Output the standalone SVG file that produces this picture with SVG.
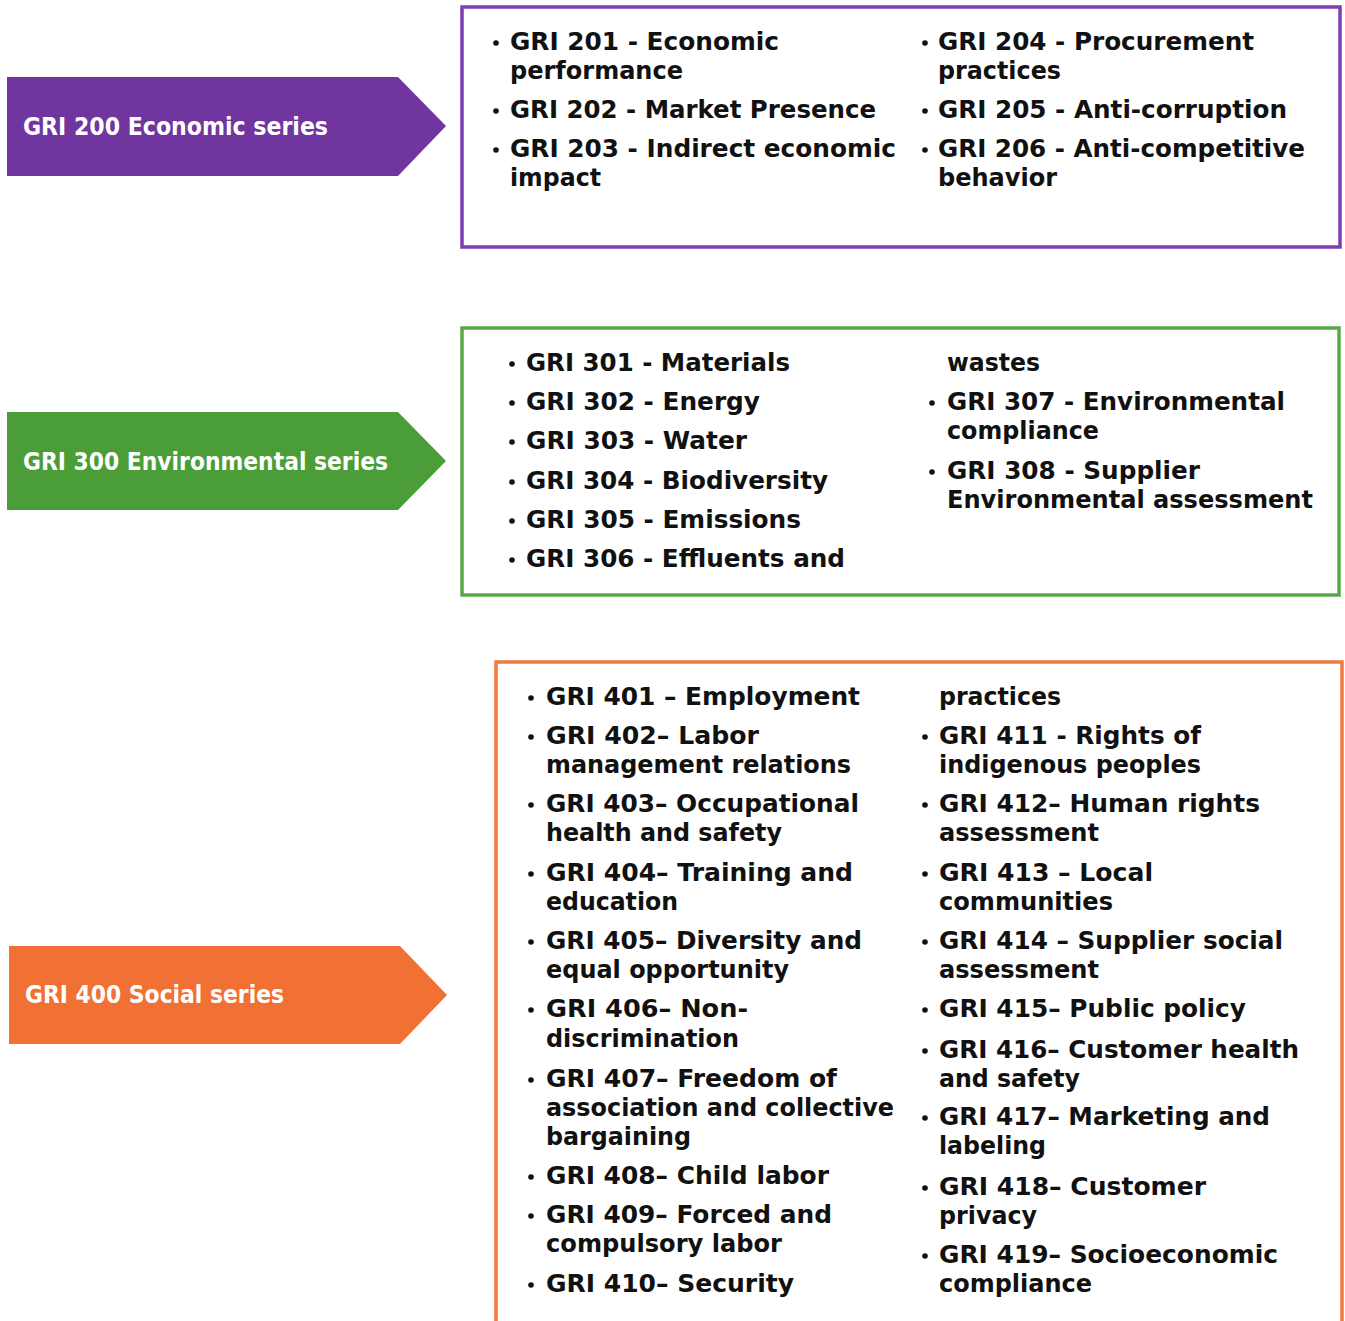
<svg xmlns="http://www.w3.org/2000/svg" width="1345" height="1321" viewBox="0 0 1345 1321">
<style>
.t{font-family:"DejaVu Sans","Liberation Sans",sans-serif;font-weight:bold;font-size:24px;fill:#111}
.lbl{font-family:"DejaVu Sans","Liberation Sans",sans-serif;font-weight:bold;font-size:24px;fill:#fff}
.b{fill:#111}
.box{fill:#fff;stroke-width:3.5}
</style>
<rect width="1345" height="1321" fill="#fff"/>
<g id="connectors"/>
<g id="econ-arrow">
<polygon points="7,77 398,77 446,126 398,176 7,176" fill="#7135a0"/>
<text class="lbl" x="23" y="135" textLength="305" lengthAdjust="spacingAndGlyphs">GRI 200 Economic series</text>
</g>
<g id="econ-box">
<rect class="box" x="462" y="7" width="878" height="240" stroke="#7b3fb0"/>
<circle class="b" cx="496" cy="43" r="2.8"/>
<text class="t" x="510" y="50" textLength="269" lengthAdjust="spacingAndGlyphs">GRI 201 - Economic</text>
<text class="t" x="510" y="79" textLength="173" lengthAdjust="spacingAndGlyphs">performance</text>
<circle class="b" cx="496" cy="111" r="2.8"/>
<text class="t" x="510" y="118" textLength="366" lengthAdjust="spacingAndGlyphs">GRI 202 - Market Presence</text>
<circle class="b" cx="496" cy="150" r="2.8"/>
<text class="t" x="510" y="157" textLength="386" lengthAdjust="spacingAndGlyphs">GRI 203 - Indirect economic</text>
<text class="t" x="510" y="186" textLength="91" lengthAdjust="spacingAndGlyphs">impact</text>
<circle class="b" cx="925" cy="43" r="2.8"/>
<text class="t" x="938" y="50" textLength="316" lengthAdjust="spacingAndGlyphs">GRI 204 - Procurement</text>
<text class="t" x="938" y="79" textLength="123" lengthAdjust="spacingAndGlyphs">practices</text>
<circle class="b" cx="925" cy="111" r="2.8"/>
<text class="t" x="938" y="118" textLength="349" lengthAdjust="spacingAndGlyphs">GRI 205 - Anti-corruption</text>
<circle class="b" cx="925" cy="150" r="2.8"/>
<text class="t" x="938" y="157" textLength="367" lengthAdjust="spacingAndGlyphs">GRI 206 - Anti-competitive</text>
<text class="t" x="938" y="186" textLength="119" lengthAdjust="spacingAndGlyphs">behavior</text>
</g>
<g id="env-arrow">
<polygon points="7,412 398,412 446,461 398,510 7,510" fill="#4a9d37"/>
<text class="lbl" x="23" y="470" textLength="365" lengthAdjust="spacingAndGlyphs">GRI 300 Environmental series</text>
</g>
<g id="env-box">
<rect class="box" x="462" y="328" width="877" height="267" stroke="#58a946"/>
<circle class="b" cx="512" cy="364" r="2.8"/>
<text class="t" x="526" y="371" textLength="264" lengthAdjust="spacingAndGlyphs">GRI 301 - Materials</text>
<circle class="b" cx="512" cy="403" r="2.8"/>
<text class="t" x="526" y="410" textLength="234" lengthAdjust="spacingAndGlyphs">GRI 302 - Energy</text>
<circle class="b" cx="512" cy="442" r="2.8"/>
<text class="t" x="526" y="449" textLength="221" lengthAdjust="spacingAndGlyphs">GRI 303 - Water</text>
<circle class="b" cx="512" cy="482" r="2.8"/>
<text class="t" x="526" y="489" textLength="302" lengthAdjust="spacingAndGlyphs">GRI 304 - Biodiversity</text>
<circle class="b" cx="512" cy="521" r="2.8"/>
<text class="t" x="526" y="528" textLength="275" lengthAdjust="spacingAndGlyphs">GRI 305 - Emissions</text>
<circle class="b" cx="512" cy="560" r="2.8"/>
<text class="t" x="526" y="567" textLength="319" lengthAdjust="spacingAndGlyphs">GRI 306 - Effluents and</text>
<text class="t" x="947" y="371" textLength="93" lengthAdjust="spacingAndGlyphs">wastes</text>
<circle class="b" cx="932" cy="403" r="2.8"/>
<text class="t" x="947" y="410" textLength="338" lengthAdjust="spacingAndGlyphs">GRI 307 - Environmental</text>
<text class="t" x="947" y="439" textLength="152" lengthAdjust="spacingAndGlyphs">compliance</text>
<circle class="b" cx="932" cy="472" r="2.8"/>
<text class="t" x="947" y="479" textLength="253" lengthAdjust="spacingAndGlyphs">GRI 308 - Supplier</text>
<text class="t" x="947" y="508" textLength="366" lengthAdjust="spacingAndGlyphs">Environmental assessment</text>
</g>
<g id="social-arrow">
<polygon points="9,946 400,946 447,995 400,1044 9,1044" fill="#f07133"/>
<text class="lbl" x="25" y="1003" textLength="259" lengthAdjust="spacingAndGlyphs">GRI 400 Social series</text>
</g>
<g id="social-box">
<rect class="box" x="496" y="662" width="846" height="680" stroke="#f07a3c"/>
<circle class="b" cx="531" cy="698" r="2.8"/>
<text class="t" x="546" y="705" textLength="314" lengthAdjust="spacingAndGlyphs">GRI 401 – Employment</text>
<circle class="b" cx="531" cy="737" r="2.8"/>
<text class="t" x="546" y="744" textLength="213" lengthAdjust="spacingAndGlyphs">GRI 402– Labor</text>
<text class="t" x="546" y="773" textLength="305" lengthAdjust="spacingAndGlyphs">management relations</text>
<circle class="b" cx="531" cy="805" r="2.8"/>
<text class="t" x="546" y="812" textLength="313" lengthAdjust="spacingAndGlyphs">GRI 403– Occupational</text>
<text class="t" x="546" y="841" textLength="236" lengthAdjust="spacingAndGlyphs">health and safety</text>
<circle class="b" cx="531" cy="874" r="2.8"/>
<text class="t" x="546" y="881" textLength="307" lengthAdjust="spacingAndGlyphs">GRI 404– Training and</text>
<text class="t" x="546" y="910" textLength="132" lengthAdjust="spacingAndGlyphs">education</text>
<circle class="b" cx="531" cy="942" r="2.8"/>
<text class="t" x="546" y="949" textLength="316" lengthAdjust="spacingAndGlyphs">GRI 405– Diversity and</text>
<text class="t" x="546" y="978" textLength="243" lengthAdjust="spacingAndGlyphs">equal opportunity</text>
<circle class="b" cx="531" cy="1010" r="2.8"/>
<text class="t" x="546" y="1017" textLength="202" lengthAdjust="spacingAndGlyphs">GRI 406– Non-</text>
<text class="t" x="546" y="1047" textLength="193" lengthAdjust="spacingAndGlyphs">discrimination</text>
<circle class="b" cx="531" cy="1080" r="2.8"/>
<text class="t" x="546" y="1087" textLength="291" lengthAdjust="spacingAndGlyphs">GRI 407– Freedom of</text>
<text class="t" x="546" y="1116" textLength="348" lengthAdjust="spacingAndGlyphs">association and collective</text>
<text class="t" x="546" y="1145" textLength="145" lengthAdjust="spacingAndGlyphs">bargaining</text>
<circle class="b" cx="531" cy="1177" r="2.8"/>
<text class="t" x="546" y="1184" textLength="283" lengthAdjust="spacingAndGlyphs">GRI 408– Child labor</text>
<circle class="b" cx="531" cy="1216" r="2.8"/>
<text class="t" x="546" y="1223" textLength="286" lengthAdjust="spacingAndGlyphs">GRI 409– Forced and</text>
<text class="t" x="546" y="1252" textLength="236" lengthAdjust="spacingAndGlyphs">compulsory labor</text>
<circle class="b" cx="531" cy="1285" r="2.8"/>
<text class="t" x="546" y="1292" textLength="248" lengthAdjust="spacingAndGlyphs">GRI 410– Security</text>
<text class="t" x="939" y="705" textLength="122" lengthAdjust="spacingAndGlyphs">practices</text>
<circle class="b" cx="925" cy="737" r="2.8"/>
<text class="t" x="939" y="744" textLength="262" lengthAdjust="spacingAndGlyphs">GRI 411 - Rights of</text>
<text class="t" x="939" y="773" textLength="262" lengthAdjust="spacingAndGlyphs">indigenous peoples</text>
<circle class="b" cx="925" cy="805" r="2.8"/>
<text class="t" x="939" y="812" textLength="321" lengthAdjust="spacingAndGlyphs">GRI 412– Human rights</text>
<text class="t" x="939" y="841" textLength="160" lengthAdjust="spacingAndGlyphs">assessment</text>
<circle class="b" cx="925" cy="874" r="2.8"/>
<text class="t" x="939" y="881" textLength="214" lengthAdjust="spacingAndGlyphs">GRI 413 – Local</text>
<text class="t" x="939" y="910" textLength="174" lengthAdjust="spacingAndGlyphs">communities</text>
<circle class="b" cx="925" cy="942" r="2.8"/>
<text class="t" x="939" y="949" textLength="344" lengthAdjust="spacingAndGlyphs">GRI 414 – Supplier social</text>
<text class="t" x="939" y="978" textLength="160" lengthAdjust="spacingAndGlyphs">assessment</text>
<circle class="b" cx="925" cy="1010" r="2.8"/>
<text class="t" x="939" y="1017" textLength="307" lengthAdjust="spacingAndGlyphs">GRI 415– Public policy</text>
<circle class="b" cx="925" cy="1051" r="2.8"/>
<text class="t" x="939" y="1058" textLength="360" lengthAdjust="spacingAndGlyphs">GRI 416– Customer health</text>
<text class="t" x="939" y="1087" textLength="141" lengthAdjust="spacingAndGlyphs">and safety</text>
<circle class="b" cx="925" cy="1118" r="2.8"/>
<text class="t" x="939" y="1125" textLength="331" lengthAdjust="spacingAndGlyphs">GRI 417– Marketing and</text>
<text class="t" x="939" y="1154" textLength="107" lengthAdjust="spacingAndGlyphs">labeling</text>
<circle class="b" cx="925" cy="1188" r="2.8"/>
<text class="t" x="939" y="1195" textLength="267" lengthAdjust="spacingAndGlyphs">GRI 418– Customer</text>
<text class="t" x="939" y="1224" textLength="98" lengthAdjust="spacingAndGlyphs">privacy</text>
<circle class="b" cx="925" cy="1256" r="2.8"/>
<text class="t" x="939" y="1263" textLength="339" lengthAdjust="spacingAndGlyphs">GRI 419– Socioeconomic</text>
<text class="t" x="939" y="1292" textLength="153" lengthAdjust="spacingAndGlyphs">compliance</text>
</g>
</svg>
